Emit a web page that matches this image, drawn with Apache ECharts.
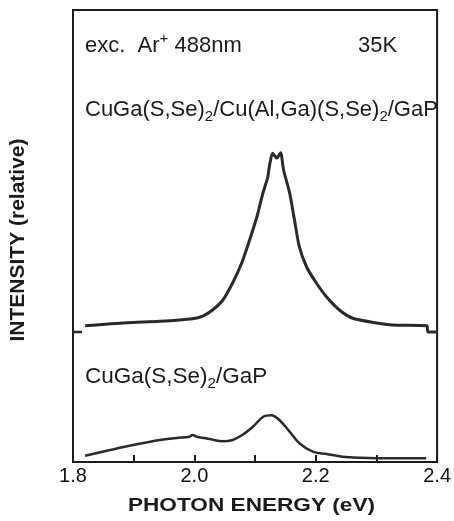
<!DOCTYPE html>
<html>
<head>
<meta charset="utf-8">
<script src="https://cdn.jsdelivr.net/npm/echarts@6/dist/echarts.min.js"></script>
<style>
  html, body { margin: 0; padding: 0; background: #ffffff; }
  #chart { width: 454px; height: 521px; }
</style>
</head>
<body>
<div id="chart"></div>
<script>
// Photoluminescence spectra, photon energy (eV) vs relative intensity
const xTicks = [1.8, 2.0, 2.2, 2.4];

// CuGa(S,Se)2/Cu(Al,Ga)(S,Se)2/GaP (offset upward)
const upperEnergy = [1.820, 1.888, 1.943, 1.997, 2.014, 2.030, 2.047, 2.063, 2.078, 2.091,
  2.103, 2.113, 2.121, 2.124, 2.129, 2.136, 2.142, 2.147, 2.157, 2.165,
  2.173, 2.185, 2.201, 2.218, 2.239, 2.260, 2.300, 2.326, 2.383, 2.385, 2.400];
const upperIntensity = [30.15, 30.82, 31.13, 31.70, 32.30, 33.63, 35.84, 39.60, 44.03, 49.12,
  54.20, 59.51, 63.05, 65.71, 68.29, 67.26, 68.43, 64.60, 59.51, 53.54,
  47.57, 43.14, 39.60, 36.50, 33.63, 31.86, 30.75, 30.31, 30.15, 28.76, 28.76];
// zero level of the offset spectrum, marked at the left frame
const upperZero = 28.76;
const upperZeroMark = [1.800, 1.815];

// CuGa(S,Se)2/GaP
const lowerEnergy = [1.820, 1.861, 1.899, 1.943, 1.971, 1.992, 1.997, 2.004, 2.025, 2.047,
  2.063, 2.079, 2.096, 2.113, 2.127, 2.140, 2.157, 2.173, 2.195, 2.218,
  2.244, 2.272, 2.326, 2.382];
const lowerIntensity = [1.39, 2.65, 3.76, 4.87, 5.31, 5.60, 5.97, 5.60, 5.09, 4.58,
  4.87, 5.97, 7.74, 9.96, 10.33, 9.29, 6.70, 4.14, 2.28, 1.77,
  1.17, 0.95, 0.82, 0.82];

const zip = (xs, ys) => xs.map((x, i) => [x, ys[i]]);

const FONT = "'Liberation Sans', Arial, Helvetica, sans-serif";
const INK = '#1b1b1b';
const CURVE = '#2a2a2a';

const chart = echarts.init(document.getElementById('chart'), null, { renderer: 'canvas' });

chart.setOption({
  backgroundColor: '#ffffff',
  animation: false,
  grid: {
    left: 73, right: 16, top: 10, bottom: 59,
    show: true, borderColor: INK, borderWidth: 2, backgroundColor: 'transparent'
  },
  xAxis: {
    type: 'value',
    min: 1.8, max: 2.4, interval: 0.1,
    axisLine: { show: true, lineStyle: { color: INK, width: 2 } },
    axisTick: { show: true, inside: true, length: 7, lineStyle: { color: INK, width: 2 } },
    splitLine: { show: false },
    axisLabel: {
      margin: 4,
      color: '#111',
      fontSize: 20,
      fontFamily: FONT,
      formatter: v => {
        const hit = xTicks.find(t => Math.abs(t - v) < 1e-6);
        return hit === undefined ? '' : hit.toFixed(1);
      }
    }
  },
  yAxis: {
    type: 'value',
    min: 0, max: 100,
    axisLine: { show: false },
    axisTick: { show: false },
    axisLabel: { show: false },
    splitLine: { show: false }
  },
  series: [
    {
      name: 'CuGa(S,Se)2/Cu(Al,Ga)(S,Se)2/GaP',
      type: 'line',
      data: zip(upperEnergy, upperIntensity),
      showSymbol: false,
      smooth: 0.25,
      lineStyle: { color: CURVE, width: 3 }
    },
    {
      name: 'zero',
      type: 'line',
      data: upperZeroMark.map(x => [x, upperZero]),
      showSymbol: false,
      lineStyle: { color: CURVE, width: 2.5 }
    },
    {
      name: 'CuGa(S,Se)2/GaP',
      type: 'line',
      data: zip(lowerEnergy, lowerIntensity),
      showSymbol: false,
      smooth: 0.35,
      lineStyle: { color: CURVE, width: 2.5 }
    }
  ],
  graphic: [
    {
      type: 'text', x: 85, y: 46,
      style: {
        text: 'exc.  Ar{sup|+} 488nm',
        font: `22px ${FONT}`, fill: INK, align: 'left', verticalAlign: 'middle',
        lineHeight: 29,
        rich: { sup: { fontSize: 15, fontFamily: FONT, lineHeight: 18, verticalAlign: 'top', fill: INK } }
      }
    },
    {
      type: 'text', x: 358, y: 46,
      style: { text: '35K', font: `22px ${FONT}`, fill: INK, align: 'left', verticalAlign: 'middle' }
    },
    {
      type: 'text', x: 85, y: 110,
      style: {
        text: 'CuGa(S,Se){sub|2}/Cu(Al,Ga)(S,Se){sub|2}/GaP',
        font: `22px ${FONT}`, fill: INK, align: 'left', verticalAlign: 'middle',
        lineHeight: 29,
        rich: { sub: { fontSize: 15, fontFamily: FONT, lineHeight: 15, verticalAlign: 'bottom', fill: INK } }
      }
    },
    {
      type: 'text', x: 85, y: 377,
      style: {
        text: 'CuGa(S,Se){sub|2}/GaP',
        font: `22.5px ${FONT}`, fill: INK, align: 'left', verticalAlign: 'middle',
        lineHeight: 29,
        rich: { sub: { fontSize: 15, fontFamily: FONT, lineHeight: 15, verticalAlign: 'bottom', fill: INK } }
      }
    },
    {
      type: 'text', x: 251.5, y: 506, scaleX: 1.19,
      style: {
        text: 'PHOTON ENERGY (eV)',
        font: `bold 19px ${FONT}`, fill: INK, align: 'center', verticalAlign: 'middle'
      }
    },
    {
      type: 'text', x: 18, y: 240, rotation: Math.PI / 2,
      style: {
        text: 'INTENSITY (relative)',
        font: `bold 21px ${FONT}`, fill: INK, align: 'center', verticalAlign: 'middle'
      }
    }
  ]
});
</script>
</body>
</html>
